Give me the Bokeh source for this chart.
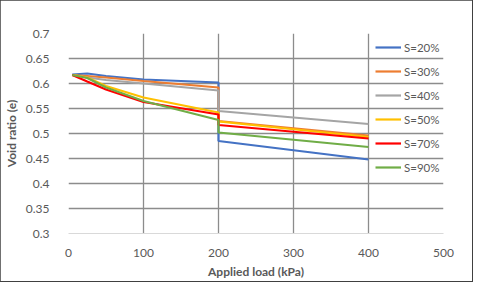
from bokeh.plotting import figure
from bokeh.models import Legend, LegendItem, Range1d, FixedTicker
from bokeh.embed import file_html
from bokeh.resources import INLINE

# ---- data ----
load_kpa = [5, 25, 50, 100, 200, 200, 400]
s20 = [0.618, 0.620, 0.615, 0.608, 0.602, 0.485, 0.448]
s30 = [0.617, 0.615, 0.612, 0.605, 0.592, 0.525, 0.496]
s40 = [0.617, 0.612, 0.607, 0.600, 0.586, 0.545, 0.519]
s50 = [0.617, 0.612, 0.595, 0.572, 0.542, 0.524, 0.493]
s70 = [0.617, 0.604, 0.588, 0.563, 0.538, 0.517, 0.490]
s90 = [0.617, 0.611, 0.592, 0.565, 0.527, 0.502, 0.473]

series_names = ["S=20%", "S=30%", "S=40%", "S=50%", "S=70%", "S=90%"]
series_values = [s20, s30, s40, s50, s70, s90]
series_colors = ["#4472C4", "#ED7D31", "#A5A5A5", "#FFC000", "#FF0000", "#70AD47"]

x_ticks = [0, 100, 200, 300, 400, 500]
y_ticks = [0.3, 0.35, 0.4, 0.45, 0.5, 0.55, 0.6, 0.65, 0.7]

FONT = "Lato"
TXT = "#595959"
GRID = "#8c8c8c"

p = figure(width=None, height=None, frame_width=375, frame_height=200,
           output_backend="svg", toolbar_location=None,
           x_range=Range1d(0, 500), y_range=Range1d(0.3, 0.7),
           min_border_left=60, min_border_right=29, min_border_top=33, min_border_bottom=46)
p.styles = {"outline": "2px solid #404040", "outline-offset": "-1px"}
p.outline_line_color = None
p.background_fill_color = "white"
p.border_fill_color = "white"

p.xaxis.ticker = FixedTicker(ticks=x_ticks)
p.yaxis.ticker = FixedTicker(ticks=y_ticks)
p.yaxis.major_label_overrides = {0.3: "0.3", 0.35: "0.35", 0.4: "0.4", 0.45: "0.45",
                                 0.5: "0.5", 0.55: "0.55", 0.6: "0.6", 0.65: "0.65", 0.7: "0.7"}

for ax in (p.xaxis[0], p.yaxis[0]):
    ax.major_tick_line_color = None
    ax.minor_tick_line_color = None
    ax.major_label_text_font = FONT
    ax.major_label_text_font_size = "12px"
    ax.major_label_text_color = TXT
    ax.axis_label_text_font = FONT
    ax.axis_label_text_font_size = "12px"
    ax.axis_label_text_font_style = "bold"
    ax.axis_label_text_color = TXT

p.xaxis.axis_label = "Applied load (kPa)"
p.yaxis.axis_label = "Void ratio (e)"
p.xaxis.axis_line_color = "#d9d9d9"
p.yaxis.axis_line_color = None
p.xaxis.major_label_standoff = 9
p.yaxis.major_label_standoff = 13
p.xaxis.axis_label_standoff = 4
p.yaxis.axis_label_standoff = 4

p.xgrid.grid_line_color = GRID
p.ygrid.grid_line_color = GRID
p.xgrid.grid_line_width = 1.3
p.ygrid.grid_line_width = 1.3

items = []
for name, vals, col in zip(series_names, series_values, series_colors):
    r = p.line(load_kpa, vals, line_color=col, line_width=2.2)
    items.append(LegendItem(label=name, renderers=[r]))

legend = Legend(items=items, location=(307, 56),
                background_fill_alpha=0, border_line_alpha=0,
                glyph_width=26, glyph_height=20, label_height=20,
                spacing=4, padding=0, margin=0, label_standoff=3,
                label_text_font=FONT, label_text_font_size="11.5px",
                label_text_color=TXT)
p.add_layout(legend, "center")

open("out.html", "w").write(file_html(p, INLINE))
